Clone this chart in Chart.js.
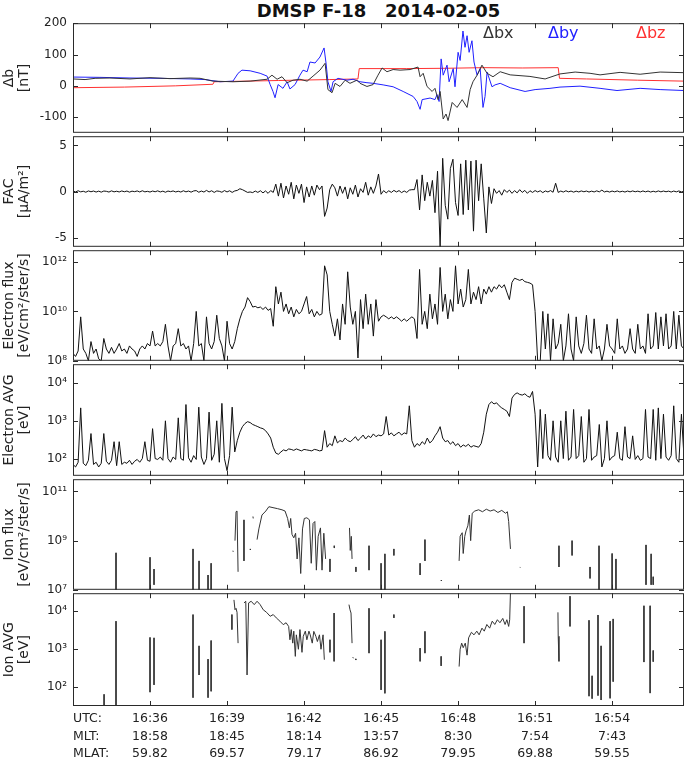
<!DOCTYPE html>
<html>
<head>
<meta charset="utf-8">
<script src="https://cdn.jsdelivr.net/npm/chart.js"></script>
<style>
  body { margin: 0; background: #fff; }
  #wrap { position: relative; width: 685px; height: 761px; overflow: hidden; font-family: "DejaVu Sans", sans-serif; }
  #wrap canvas { position: absolute; left: 0; }
  #title { position: absolute; left: 73px; width: 611px; top: 0; text-align: center; font-weight: bold;
           font-size: 18px; line-height: 21px; white-space: pre; color: #111; }
</style>
</head>
<body>
<div id="wrap">
  <div id="title">DMSP F-18   2014-02-05</div>
</div>
<script>
// time axis: minutes after 16:33 UTC
const X_TICKS = [3, 6, 9, 12, 15, 18, 21];
const UTC_LABELS = ['16:36', '16:39', '16:42', '16:45', '16:48', '16:51', '16:54'];
const MLT_LABELS = ['18:58', '18:45', '18:14', '13:57', '8:30', '7:54', '7:43'];
const MLAT_LABELS = ['59.82', '69.57', '79.17', '86.92', '79.95', '69.88', '59.55'];
const ROW_NAMES = ['UTC:', 'MLT:', 'MLAT:'];

// panel 1: magnetic perturbations (nT)
const BX_T = [0,0.47,0.86,1.44,2.22,3.0,3.78,4.56,4.95,5.45,6.23,6.9,7.56,7.75,7.95,8.14,8.34,8.57,8.84,
  9.12,9.35,9.62,9.82,9.93,10.09,10.21,10.4,10.6,10.79,11.06,11.18,11.45,11.69,11.88,12.04,12.23,12.47,12.74,13.13,
  13.44,13.52,13.64,13.79,13.99,14.1,14.22,14.3,14.42,14.53,14.61,14.77,14.96,15.16,15.35,15.47,15.58,15.74,15.93,16.13,
  16.36,16.64,17.03,17.8,18.39,18.97,19.56,20.14,20.53,21.31,22.09,22.87,23.8];
const BX_V = [22,20,24,25,22,26,23,25,24,15,13,15,21,34,21,29,10,18,21,
  15,31,50,72,-12,-22,8,-2,18,8,18,8,-2,4,34,57,45,52,50,52,
  60,29,40,-2,-18,-8,-44,-18,-106,-90,-111,-53,-69,-44,-69,-12,13,34,66,40,
  29,45,35,30,22,38,44,40,35,43,37,44,42];
const BY_T = [0,1.05,2.22,3.39,4.56,5.14,5.73,6.23,6.43,6.58,6.9,7.29,7.56,7.68,7.79,7.87,7.99,8.18,8.34,8.45,
  8.65,8.84,8.96,9.12,9.23,9.43,9.62,9.78,9.86,9.93,10.05,10.13,10.32,10.67,10.91,11.18,11.45,11.69,12.08,12.47,
  12.86,13.25,13.4,13.52,13.6,13.91,14.1,14.18,14.26,14.34,14.42,14.57,14.65,14.81,14.88,15.0,15.08,15.19,15.27,15.35,
  15.43,15.54,15.62,15.74,15.86,15.97,16.05,16.13,16.32,16.44,16.64,17.03,17.61,18.0,18.58,18.97,19.75,20.53,21.19,22.09,
  22.87,23.8];
const BY_V = [28,27,25,24,22,20,13,15,40,50,48,40,31,4,-18,-38,4,-8,13,-10,
  4,34,50,45,76,73,92,121,70,13,-18,13,24,18,21,13,10,8,3,-3,
  -18,-34,-50,-75,-44,-39,-44,-28,-50,86,34,66,13,55,-3,107,81,175,123,160,
  107,144,76,34,55,-69,-34,44,-3,3,8,-6,-18,-12,-8,-4,-1,-8,-15,-8,
  -12,-15];
const BZ_T = [0,2,4,5.45,5.5,8,10,11.1,11.15,13,14.5,16,17.5,18.9,18.95,20,22,23.8];
const BZ_V = [-6,-4,0,5,13,17,20,22,55,55,56,58,57,58,24,22,18,15];

// panels 2-4 are sampled every 0.1 min from 16:33
const SAMPLE_MIN = 0.1;
const FAC = [
  0.05,-0.05,0.08,-0.04,0.03,-0.08,0.06,-0.03,0.05,-0.06,
  0.04,-0.07,0.05,0.02,-0.06,0.07,-0.04,0.03,-0.05,0.06,
  -0.03,0.05,-0.07,0.04,-0.02,0.06,-0.05,0.08,-0.04,0.02,
  -0.06,0.05,-0.03,0.07,-0.05,0.04,-0.08,0.05,-0.02,0.06,
  -0.05,0.03,-0.06,0.08,-0.04,0.05,-0.07,0.06,0.1,-0.08,
  0.05,-0.06,0.12,-0.05,0.08,-0.1,0.06,0.02,-0.08,0.1,
  -0.05,0.08,-0.1,0.06,0.12,0.3,0.2,0.05,-0.1,-0.05,
  -0.12,0.05,-0.1,0.08,-0.15,0.06,-0.2,0.1,-0.1,0.8,
  -0.5,0.9,-0.7,0.6,-0.3,1.0,-0.8,0.7,-0.2,0.8,
  -1.2,0.5,-0.6,0.6,-0.4,0.7,0.2,0.6,-2.7,-1.8,
  0.2,0.8,0.4,-0.5,0.6,-0.2,0.5,-0.8,0.4,-0.3,
  0.7,-0.6,0.3,-0.1,1.0,-0.4,0.5,-0.2,0.6,1.9,
  -0.3,0.1,-0.15,0.08,-0.1,0.12,-0.05,0.1,-0.12,0.06,
  -0.1,0.15,0.2,0.2,1.3,-2.0,1.8,-1.0,1.0,-0.5,
  1.2,-2.3,2.2,-6.0,3.6,-1.5,-3.0,2.5,3.5,-1.2,
  -2.6,3.0,-2.5,3.4,-2.0,3.3,-4.3,3.4,-1.0,3.0,
  -0.8,-4.5,0.5,-1.3,0.3,-0.2,0.1,-0.4,0.2,-0.1,
  0.15,-0.2,0.1,-0.15,0.2,-0.1,0.12,-0.2,0.08,-0.1,
  0.1,-0.05,0.08,-0.12,0.06,-0.05,0.1,-0.08,0.9,-0.1,
  0.05,-0.06,0.08,-0.04,0.05,-0.07,0.04,-0.05,0.06,-0.03,
  0.05,-0.06,0.04,-0.05,0.07,-0.04,0.15,-0.05,0.04,-0.06,
  0.05,-0.04,0.06,-0.05,0.03,-0.06,0.05,-0.04,0.06,-0.03,
  0.04,-0.05,0.06,-0.04,0.05,-0.06,0.03,-0.05,0.06,-0.04,
  0.05,-0.03,0.04,-0.06,0.05,-0.04,0.06,-0.05,0.03];
const E_FLUX = [
  2e8,1.5e8,2.5e8,6e9,3e8,2e8,1e8,6e8,2e8,3e8,
  1.2e8,1e8,8e8,3e8,2e8,3.5e8,2e8,3e8,5e8,2.5e8,
  3e8,2e8,4e8,3e8,2.5e8,1.5e8,3e8,4e8,3e8,5e8,
  4e8,1.6e9,4e8,5e8,4e8,6e8,3e9,4e8,1e8,4e8,
  5e8,2e9,4e8,5e8,3e8,4e8,1e8,5e8,1e10,4e8,
  5e8,1e8,6e9,5e8,3e8,6e8,7e9,8e8,4e8,1e8,
  4e9,5e8,3e8,6e8,2e9,5e9,1e10,1.5e10,3.6e10,2.5e10,
  1.5e10,1.6e10,1.4e10,1.5e10,1.2e10,1.5e10,1.1e10,1.3e10,2.5e9,1e11,
  2e10,6e10,1e10,2e10,8e9,1.5e10,6e9,1.2e10,8e9,1e10,
  2e10,4e10,8e9,1.2e10,6e9,1e10,7e9,8e9,7e11,3e11,
  1e10,3e9,1e9,5e9,7e8,2e10,3e9,4e11,1.5e10,3e9,
  1e10,1.3e8,3e10,2e9,5e10,3e9,2e10,1e9,3e10,4e9,
  6e9,7e9,6e9,5e9,6e9,5e9,6e9,5e9,4e9,5e9,
  4e9,5e9,6e9,5e9,8e8,5e11,3e9,1e10,2e9,5e10,
  5e9,2e10,3e9,6e11,1e10,5e10,5e9,3e10,1e10,7e11,
  2e10,8e10,1.5e10,3e10,5e11,2e10,6e10,3e10,1e11,2e10,
  8e10,5e10,1e11,6e10,1e11,8e10,1.2e11,9e10,1.2e11,6e10,
  3e10,1.5e11,2.2e11,2e11,1.8e11,2e11,1.6e11,1.5e11,1.4e11,1.2e11,
  1e10,1e8,1e8,1e10,3e8,8e9,1e8,5e9,3e8,5e8,
  3e9,1e8,4e8,8e9,3e8,1e8,6e9,4e8,2e8,5e8,
  7e9,3e8,2e8,5e9,3e8,4e8,1e8,3e8,3e9,4e8,
  3e8,2e8,5e9,3e8,4e8,2e8,3e8,2e9,3e8,2e8,
  3e9,3e8,4e8,2e8,8e9,3e8,4e8,9e9,3e8,6e9,
  4e8,8e9,3e8,4e8,1e10,3e8,7e9,4e8,3e8];
const E_AVG = [
  70,60,80,2200,75,65,90,460,70,80,
  60,75,460,85,70,90,280,65,280,70,
  80,75,90,70,85,95,80,100,280,90,
  85,620,100,95,110,90,1000,100,80,110,
  95,1200,100,90,2700,105,80,120,95,2300,
  110,70,100,1700,90,130,1000,80,2900,100,
  48,120,2300,150,300,500,700,850,950,900,
  800,750,700,650,620,550,450,350,200,140,
  130,150,170,160,180,175,165,180,170,160,
  175,170,165,160,175,170,160,165,550,200,
  250,220,400,260,300,280,350,300,280,320,
  380,300,350,420,330,400,360,450,380,420,
  400,450,1300,420,480,400,450,500,420,480,
  450,2500,300,200,250,220,280,240,350,260,
  300,400,500,700,350,280,300,240,280,220,
  250,200,230,210,240,200,220,210,200,250,
  500,1500,2700,3200,2800,3000,2500,2200,2000,1800,
  1300,4000,5000,5500,5000,4800,5200,4500,4200,6000,
  1500,60,2000,100,1500,120,90,1000,110,80,
  1000,100,1800,90,110,2000,100,120,1300,80,
  100,2000,90,110,120,800,60,100,1000,90,
  110,120,500,100,90,700,110,100,400,95,
  120,90,100,2000,110,100,2000,90,2200,100,
  1500,110,90,120,2500,100,80,1500,110];

// panels 5-6: ion data, broken traces (null = gap)
const ION_FLUX_T = [
  1.675,1.675,null, 3.0,3.0,null, 3.156,3.156,null,
  4.675,4.675,null, 4.91,4.91,null, 5.26,5.26,null, 5.38,5.38,null,
  6.23,6.24,null, 6.31,6.35,6.39,6.43,null, 6.66,6.66,null, 6.9,6.91,null, 7.01,7.02,null,
  7.17,7.24,7.36,7.51,7.63,7.79,7.97,8.14,8.26,8.36,8.43,8.48,8.53,8.6,8.67,8.73,8.8,8.87,8.94,9.01,
  9.11,9.21,9.28,9.35,9.42,9.48,9.55,9.64,9.7,9.77,9.84,null,
  10.01,10.01,null, 10.17,10.18,null, 10.77,10.8,10.84,10.87,null, 11.02,11.02,null, 11.53,11.53,null,
  12.0,12.0,null, 12.15,12.15,null, 12.5,12.5,null, 13.52,13.52,null, 13.71,13.71,null, 14.34,14.35,null,
  15.04,15.08,15.16,15.2,15.26,15.31,15.38,15.44,15.49,15.55,15.65,15.8,15.95,16.1,16.25,16.4,16.55,16.7,16.85,16.92,
  16.97,17.04,null,
  17.41,17.42,null, 18.93,18.93,null, 19.44,19.44,null, 20.14,20.14,null,
  20.49,20.49,null, 21.0,21.0,null, 21.15,21.15,null, 22.32,22.32,null, 22.52,22.52,null, 22.6,22.6];
const ION_FLUX_V = [
  3.2e8,1e7,null, 2.1e8,1e7,null, 7e7,1.6e7,null,
  4.6e8,1e7,null, 1.5e8,1e7,null, 4e7,1e7,null, 1.2e8,1e7,null,
  3.9e8,3.5e8,null, 1e9,1.5e10,1.6e10,5.4e7,null, 7e9,1.5e8,null, 4.6e8,4.2e8,null, 9.6e9,8e9,null,
  1.1e9,3e9,1.1e10,1.6e10,2.4e10,2.2e10,2e10,1.8e10,1.6e10,8e9,3.3e9,8e9,1.8e9,1.3e9,2e9,1.8e8,1.3e9,4.6e7,3e9,8e9,
  8.5e9,7e9,1.2e8,5e9,6e9,6.3e7,1.5e9,3.3e9,6.3e7,2e9,1.8e8,null,
  1.8e8,5.4e7,null, 6.2e8,5e8,null, 3.3e9,4e8,1.5e9,1.8e8,null, 8.5e7,5.4e7,null, 6.2e8,6.3e7,null,
  1.2e8,1e7,null, 2.9e8,1e7,null, 4.6e8,2.5e8,null, 1.2e8,4e7,null, 1.1e9,1.5e8,null, 2.5e7,2.3e7,null,
  1.5e8,1.5e9,2.1e9,3e8,1.5e9,2.5e9,4e9,1.1e10,1e9,1.3e10,1.6e10,1.8e10,1.5e10,1.9e10,1.6e10,1.8e10,1.4e10,1.7e10,1.3e10,1.5e10,
  6e9,4.6e8,null,
  8.5e7,8e7,null, 6.2e8,8.5e7,null, 1e9,2.5e8,null, 8.5e7,2.9e7,null,
  6.2e8,1e7,null, 3e8,1e7,null, 1.8e8,1e7,null, 6.7e8,1.6e7,null, 2.9e8,1.6e7,null, 3.4e7,1.6e7];
const ION_AVG_T = [
  1.21,1.21,null, 1.675,1.675,null, 3.0,3.0,null, 3.156,3.156,null,
  4.675,4.675,null, 4.91,4.91,null, 5.26,5.26,null, 5.38,5.38,null,
  6.19,6.19,null, 6.27,6.31,6.35,6.39,6.43,null,
  6.66,6.73,6.78,6.84,6.94,7.06,7.17,7.29,7.41,7.54,7.68,7.8,7.92,8.06,8.19,8.3,8.4,8.45,8.5,8.56,
  8.6,8.66,8.7,8.78,8.84,8.92,8.97,9.05,9.11,9.19,9.24,9.32,9.38,9.46,9.52,9.6,9.66,9.74,9.79,null,
  10.01,10.01,null, 10.17,10.17,null, 10.75,10.79,10.83,10.87,null, 10.9,10.92,null, 11.0,11.02,null,
  11.53,11.53,null, 12.0,12.0,null, 12.15,12.15,null, 12.5,12.5,null, 13.52,13.52,null, 13.71,13.71,null,
  14.34,14.34,null,
  15.04,15.08,15.14,15.2,15.28,15.35,15.41,15.52,15.62,15.73,15.82,15.93,16.02,16.12,16.23,16.33,16.43,16.53,16.63,16.74,
  16.83,16.9,16.97,17.01,17.04,null,
  17.57,17.57,null, 18.89,18.9,18.93,null, 19.36,19.36,null, 20.1,20.1,null, 20.22,20.22,null,
  20.45,20.45,null, 20.57,20.57,null, 20.92,20.92,null, 21.04,21.04,null,
  22.24,22.24,null, 22.48,22.48,null, 22.6,22.6];
const ION_AVG_V = [
  65,30,null, 5500,30,null, 2050,74,null, 2000,115,null,
  8200,53,null, 1230,210,null, 550,53,null, 1700,78,null,
  8200,3300,null, 20000,11000,12000,9400,1450,null,
  16600,18400,210,16600,18400,15000,18400,15000,11000,9400,7400,8200,6700,5500,4450,5000,4000,1780,3300,1450,
  3000,650,2400,1000,3300,830,2200,3000,1780,3000,2400,1450,2960,2200,1600,2400,1000,2400,530,null,
  1780,830,null, 9000,480,null, 15000,11000,9000,1450,null, 620,580,null, 560,520,null,
  12000,790,null, 1780,85,null, 2960,69,null, 8200,6700,null, 1070,480,null, 2960,790,null,
  650,365,null,
  350,1000,1450,1100,1450,700,2000,2800,2400,3000,2400,3600,3000,4500,3600,5500,4500,6000,5000,6500,
  4500,6000,4000,6000,31600,null,
  13600,1450,null, 9400,2200,480,null, 25000,4000,null, 5800,58,null, 200,50,null,
  8000,60,null, 1230,46,null, 5500,51,null, 6300,140,null,
  14000,460,null, 14000,70,null, 930,470];

const T_MAX = 23.8;
const EDGES = [22, 135, 249, 363, 478, 592, 706];
const PAD = 12;
const FONT = '"DejaVu Sans", sans-serif';
const INK = '#222';
const SUP = {'0':'⁰','1':'¹','2':'²','3':'³','4':'⁴','5':'⁵','6':'⁶','7':'⁷','8':'⁸','9':'⁹','-':'⁻'};

function pow10Label(v) {
  const e = Math.round(Math.log10(v));
  return '10' + String(e).split('').map(c => SUP[c]).join('');
}
function pairs(T, V) {
  let last = 0;
  return T.map((t, i) => {
    if (t === null || V[i] === null) return {x: last, y: null};
    last = t;
    return {x: t, y: V[i]};
  });
}
function sampled(V) {
  return V.map((v, i) => ({x: i * SAMPLE_MIN, y: v}));
}
function line(data, color, label) {
  return {label, data, borderColor: color, borderWidth: 1, pointRadius: 0, tension: 0, spanGaps: false, fill: false};
}

// frame with inward ticks, as in the original figure
const framePlugin = {
  id: 'frame',
  afterDatasetsDraw(chart, args, opts) {
    const {ctx, chartArea: a, scales: {x, y}} = chart;
    ctx.save();
    ctx.strokeStyle = '#2a2a2a';
    ctx.lineWidth = 1;
    ctx.strokeRect(a.left + 0.5, a.top + 0.5, a.right - a.left - 1, a.bottom - a.top - 1);
    ctx.beginPath();
    X_TICKS.forEach(t => {
      const px = Math.round(x.getPixelForValue(t)) + 0.5;
      ctx.moveTo(px, a.top); ctx.lineTo(px, a.top + 5);
      ctx.moveTo(px, a.bottom); ctx.lineTo(px, a.bottom - 5);
    });
    opts.yTicks.forEach(v => {
      const py = Math.round(y.getPixelForValue(v)) + 0.5;
      ctx.moveTo(a.left, py); ctx.lineTo(a.left + 5, py);
      ctx.moveTo(a.right, py); ctx.lineTo(a.right - 5, py);
    });
    ctx.stroke();
    ctx.restore();
  }
};

const legendPlugin = {
  id: 'legendText',
  afterDraw(chart) {
    const ctx = chart.ctx;
    const xs = [483, 548, 636];
    ctx.save();
    ctx.font = '16px ' + FONT;
    ctx.textBaseline = 'alphabetic';
    chart.data.datasets.forEach((d, i) => {
      ctx.fillStyle = d.borderColor;
      ctx.fillText(d.label, xs[i], chart.chartArea.top + 15);
    });
    ctx.restore();
  }
};

const rowNamePlugin = {
  id: 'rowNames',
  afterDraw(chart) {
    const ctx = chart.ctx;
    const sx = chart.scales.x;
    const lh = 12.5 * 1.4;
    ctx.save();
    ctx.font = '12.5px ' + FONT;
    ctx.fillStyle = INK;
    ctx.textBaseline = 'middle';
    ROW_NAMES.forEach((s, j) => ctx.fillText(s, chart.chartArea.left, sx.top + 4 + lh / 2 + j * lh));
    ctx.restore();
  }
};

const wrap = document.getElementById('wrap');

function panel(k, datasets, y, extraPlugins) {
  const isLast = k === 5;
  const top = EDGES[k];
  const bottom = isLast ? EDGES[6] : EDGES[k + 1] - 1;
  const cTop = top - PAD;
  const cH = isLast ? 761 - cTop : bottom - top + 2 * PAD;
  const canvas = document.createElement('canvas');
  canvas.width = 685; canvas.height = cH;
  canvas.style.top = cTop + 'px';
  wrap.appendChild(canvas);
  new Chart(canvas, {
    type: 'line',
    data: {datasets},
    options: {
      responsive: false, animation: false, devicePixelRatio: 1,
      layout: {padding: {top: PAD, bottom: isLast ? 0 : PAD, left: 0, right: 1}},
      plugins: {legend: {display: false}, tooltip: {enabled: false}, frame: {yTicks: y.ticks}},
      scales: {
        x: {
          type: 'linear', min: 0, max: T_MAX, display: isLast,
          grid: {display: false, drawTicks: false}, border: {display: false},
          afterBuildTicks: s => { s.ticks = X_TICKS.map(v => ({value: v})); },
          afterFit: s => { if (isLast) s.height = cH - (bottom - cTop); },
          ticks: {
            padding: 4, maxRotation: 0, autoSkip: false, color: INK,
            font: {family: FONT, size: 12.5, lineHeight: 1.4},
            callback: (v, i) => [UTC_LABELS[i], MLT_LABELS[i], MLAT_LABELS[i]]
          }
        },
        y: {
          type: y.log ? 'logarithmic' : 'linear', min: y.min, max: y.max, position: 'left',
          grid: {display: false, drawTicks: false}, border: {display: false},
          afterFit: s => { s.width = 73; },
          afterBuildTicks: s => { s.ticks = y.ticks.map(v => ({value: v})); },
          ticks: {
            padding: 6, autoSkip: false, color: INK, font: {family: FONT, size: 12},
            callback: v => y.log ? pow10Label(v) : String(v)
          },
          title: {display: true, text: y.title, color: INK, padding: {top: 2, bottom: 0},
                  font: {family: FONT, size: 14, lineHeight: 1.07}}
        }
      }
    },
    plugins: [framePlugin].concat(extraPlugins || [])
  });
}

panel(0, [
  line(pairs(BX_T, BX_V), '#333333', 'Δbx'),
  line(pairs(BY_T, BY_V), '#2020ff', 'Δby'),
  line(pairs(BZ_T, BZ_V), '#ff3030', 'Δbz')
], {min: -150, max: 200, ticks: [-100, 0, 100, 200], title: ['Δb', '[nT]']}, [legendPlugin]);

panel(1, [line(sampled(FAC), '#111', 'FAC')],
  {min: -6, max: 6, ticks: [-5, 0, 5], title: ['FAC', '[μA/m²]']});

panel(2, [line(sampled(E_FLUX), '#111', 'Electron flux')],
  {log: true, min: 1e8, max: 3e12, ticks: [1e8, 1e10, 1e12], title: ['Electron flux', '[eV/cm²/ster/s]']});

panel(3, [line(sampled(E_AVG), '#111', 'Electron AVG')],
  {log: true, min: 35, max: 31600, ticks: [1e2, 1e3, 1e4], title: ['Electron AVG', '[eV]']});

panel(4, [line(pairs(ION_FLUX_T, ION_FLUX_V), '#333', 'Ion flux')],
  {log: true, min: 1e7, max: 3.16e11, ticks: [1e7, 1e9, 1e11], title: ['Ion flux', '[eV/cm²/ster/s]']});

panel(5, [line(pairs(ION_AVG_T, ION_AVG_V), '#333', 'Ion AVG')],
  {log: true, min: 32, max: 30000, ticks: [1e2, 1e3, 1e4], title: ['Ion AVG', '[eV]']}, [rowNamePlugin]);
</script>
</body>
</html>
